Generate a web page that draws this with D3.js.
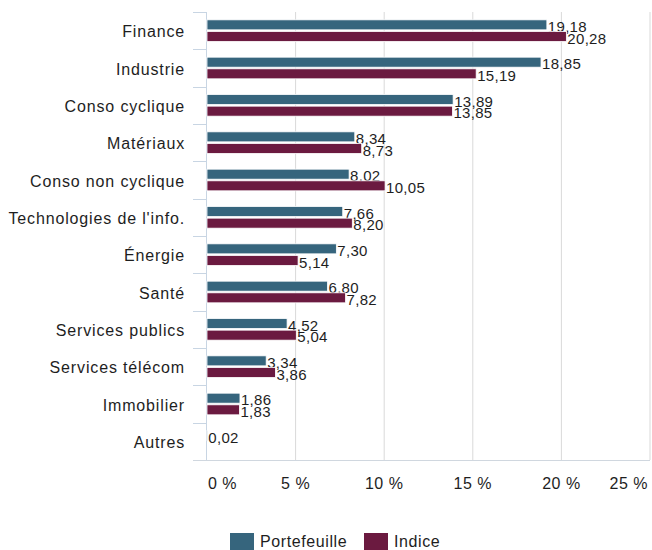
<!DOCTYPE html>
<html>
<head>
<meta charset="utf-8">
<script src="https://cdn.jsdelivr.net/npm/d3@7"></script>
<style>
  body { margin: 0; background: #fff; }
  text { font-family: "Liberation Sans", Arial, Helvetica, sans-serif; fill: #1e1e1e; }
</style>
</head>
<body>
<div id="chart"></div>
<script>
// data
const categories = ['Finance', 'Industrie', 'Conso cyclique', 'Matériaux', 'Conso non cyclique',
  "Technologies de l'info.", 'Énergie', 'Santé', 'Services publics', 'Services télécom', 'Immobilier', 'Autres']
const portefeuille = [19.18, 18.85, 13.89, 8.34, 8.02, 7.66, 7.30, 6.80, 4.52, 3.34, 1.86, 0.02]
const indice = [20.28, 15.19, 13.85, 8.73, 10.05, 8.20, 5.14, 7.82, 5.04, 3.86, 1.83, null]
const seriesNames = ['Portefeuille', 'Indice']
const xTicks = [0, 5, 10, 15, 20, 25]

const colors = { Portefeuille: '#36657d', Indice: '#6b1a40' }

const rows = categories.map((c, i) => ({ cat: c, Portefeuille: portefeuille[i], Indice: indice[i] }))

// dimensions
let dimensions = {
  width: 652,
  height: 550,
  margin: { top: 12, right: 2, bottom: 90, left: 207 }
}
dimensions.innerWidth = dimensions.width - dimensions.margin.left - dimensions.margin.right
dimensions.innerHeight = dimensions.height - dimensions.margin.top - dimensions.margin.bottom

const outer = d3.select('#chart').append('svg')
  .attr('width', dimensions.width)
  .attr('height', dimensions.height)

const inner = outer.append('g')
  .attr('transform', `translate(${dimensions.margin.left},${dimensions.margin.top})`)

// scales
const xScale = d3.scaleLinear().domain([0, 25]).range([0, dimensions.innerWidth])

const yScale = d3.scaleBand()
  .domain(categories)
  .range([0, dimensions.innerHeight])
  .paddingInner(0.42)
  .paddingOuter(0.21)

const ySub = d3.scaleBand()
  .domain(seriesNames)
  .range([0, yScale.bandwidth()])
  .paddingInner(0.14)

// gridlines
inner.append('g')
  .selectAll('line')
  .data(xTicks.slice(1))
  .join('line')
  .attr('x1', d => xScale(d)).attr('x2', d => xScale(d))
  .attr('y1', 0).attr('y2', dimensions.innerHeight)
  .attr('stroke', '#d9d9d9')
  .attr('stroke-width', 1)

// category boundary ticks + y axis line
const step = yScale.step()
inner.append('g')
  .selectAll('line')
  .data(d3.range(categories.length + 1))
  .join('line')
  .attr('x1', -14).attr('x2', 0)
  .attr('y1', i => Math.round(i * step) + 0.5).attr('y2', i => Math.round(i * step) + 0.5)
  .attr('stroke', '#c8d5e3')

inner.append('line')
  .attr('x1', -0.5).attr('x2', -0.5)
  .attr('y1', 0).attr('y2', dimensions.innerHeight)
  .attr('stroke', '#c8d5e3')

inner.append('line')
  .attr('x1', -14).attr('x2', dimensions.innerWidth)
  .attr('y1', dimensions.innerHeight + 0.5).attr('y2', dimensions.innerHeight + 0.5)
  .attr('stroke', '#d0d7df')

// category labels
inner.append('g')
  .selectAll('text')
  .data(categories)
  .join('text')
  .attr('x', -22)
  .attr('y', d => yScale(d) + yScale.bandwidth() / 2 + 1)
  .attr('dy', '0.35em')
  .attr('text-anchor', 'end')
  .style('font-size', '16px')
  .style('letter-spacing', '0.85px')
  .text(d => d)

// bars
const groups = inner.append('g')
  .selectAll('g')
  .data(rows)
  .join('g')
  .attr('transform', d => `translate(0,${yScale(d.cat)})`)

const cells = groups.selectAll('g')
  .data(d => seriesNames.filter(s => d[s] != null).map(s => ({ key: s, value: d[s] })))
  .join('g')

cells.append('rect')
  .attr('x', 0)
  .attr('y', d => ySub(d.key))
  .attr('width', d => xScale(d.value))
  .attr('height', ySub.bandwidth())
  .attr('fill', d => colors[d.key])
  .attr('stroke', '#fff')
  .attr('stroke-width', 0.8)

cells.append('text')
  .attr('x', d => xScale(d.value) + 1)
  .attr('y', d => ySub(d.key) + ySub.bandwidth() / 2 + 2)
  .attr('dy', '0.35em')
  .style('font-size', '15px')
  .style('letter-spacing', '0.3px')
  .text(d => d3.format('.2f')(d.value).replace('.', ','))

// x axis labels
inner.append('g')
  .selectAll('text')
  .data(xTicks)
  .join('text')
  .attr('x', (d, i) => i === 0 ? 1 : (i === xTicks.length - 1 ? dimensions.innerWidth - 2 : xScale(d)))
  .attr('y', dimensions.innerHeight + 29)
  .attr('text-anchor', (d, i) => i === 0 ? 'start' : (i === xTicks.length - 1 ? 'end' : 'middle'))
  .style('font-size', '16px')
  .style('letter-spacing', '0.5px')
  .text(d => d + ' %')

// legend
const legend = outer.append('g').attr('transform', 'translate(230,533)')
const legendX = [0, 134]
seriesNames.forEach((s, i) => {
  const g = legend.append('g').attr('transform', `translate(${legendX[i]},0)`)
  g.append('rect').attr('width', 24).attr('height', 17).attr('fill', colors[s])
  g.append('text').attr('x', 30).attr('y', 14).style('font-size', '16px')
    .style('letter-spacing', '0.6px').text(s)
})
</script>
</body>
</html>
